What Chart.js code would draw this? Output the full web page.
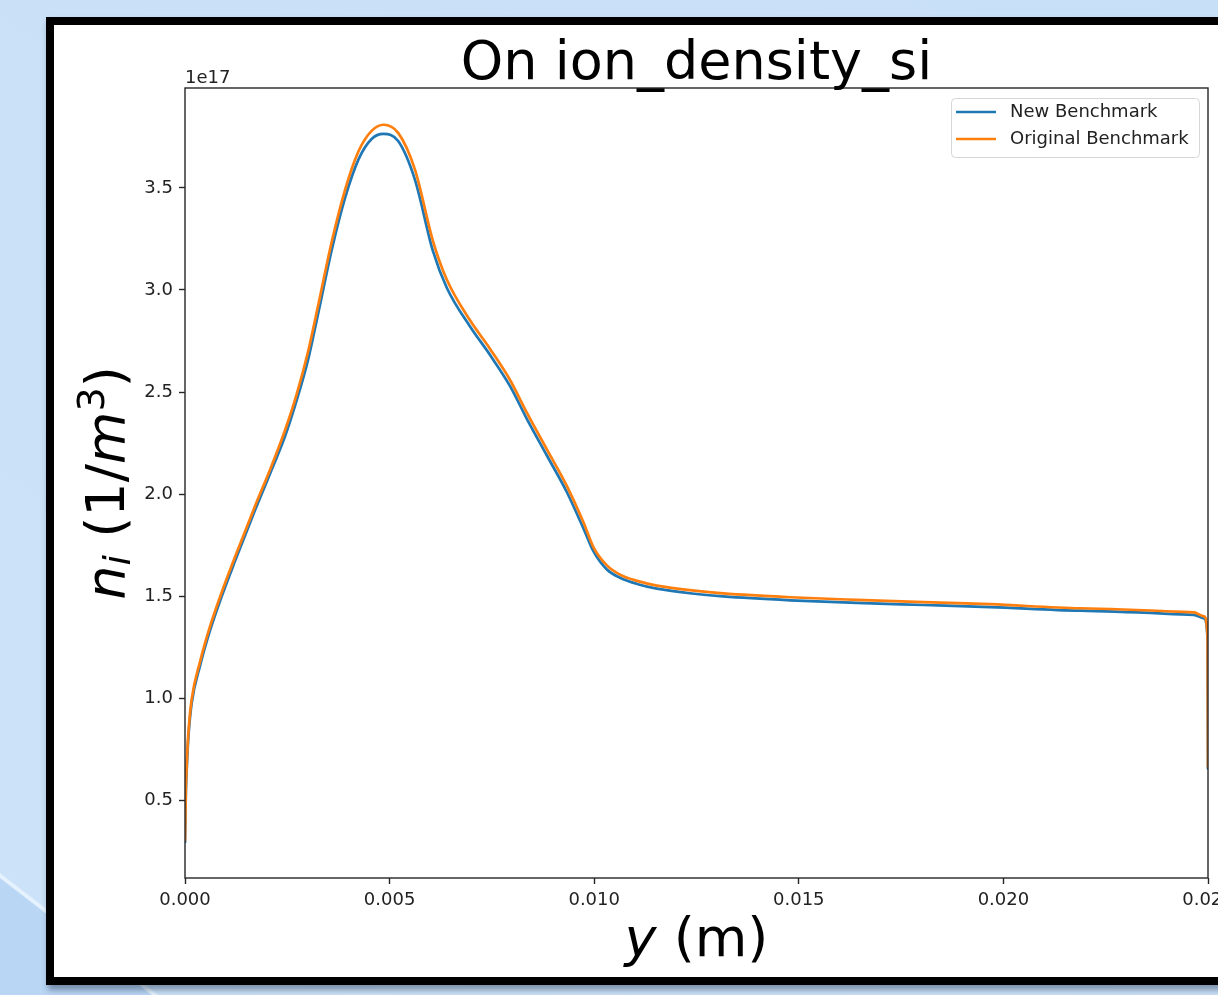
<!DOCTYPE html>
<html>
<head>
<meta charset="utf-8">
<script src="https://cdn.jsdelivr.net/npm/chart.js@4.4.1/dist/chart.umd.min.js"></script>
<style>
    html, body {
        margin: 0;
        padding: 0;
        width: 1218px;
        height: 995px;
        overflow: hidden;
    }
    body {
        position: relative;
        background: linear-gradient(37.6deg, #b9d6f4 0%, #b9d6f4 6.0%, #e6f2fd 6.1%, #e6f2fd 6.25%, #cbe2f8 6.35%, #c8e0f7 100%);
    }
    #frame {
        position: absolute;
        left: 46px;
        top: 17px;
        width: 1285px;
        height: 952px;
        border: 8px solid #000;
        background: #fff;
        box-shadow: 2px 5px 6px rgba(30, 50, 80, 0.45);
    }
    canvas {
        display: block;
    }
</style>
</head>
<body>
<div id="frame">
    <canvas id="line-chart" width="1285" height="952"></canvas>
</div>
<script>
// y positions (m)
const yPositions = [
    0, 0.00002, 0.00004, 0.00008, 0.00016, 0.00037, 0.00061, 0.0009, 0.00122, 0.00171,
    0.00212, 0.00244, 0.00273, 0.00301, 0.00326, 0.00359, 0.00391, 0.00424, 0.00456, 0.00485,
    0.00521, 0.00562, 0.00606, 0.0064, 0.00697, 0.00746, 0.00794, 0.00835, 0.00884, 0.00933,
    0.00974, 0.00998, 0.01031, 0.01063, 0.01107, 0.01153, 0.0125, 0.01315, 0.01479, 0.01642,
    0.01805, 0.01968, 0.02188, 0.02465, 0.0249, 0.02499, 0.025
];

// ion density, in units of 1e17 1/m^3
const newBenchmark = [
    0.29, 0.53, 0.64, 0.80, 0.97, 1.16, 1.33, 1.50, 1.67, 1.92,
    2.12, 2.28, 2.46, 2.66, 2.89, 3.20, 3.45, 3.64, 3.74, 3.765,
    3.73, 3.54, 3.19, 3.01, 2.82, 2.68, 2.53, 2.37, 2.19, 2.01,
    1.83, 1.72, 1.63, 1.59, 1.558, 1.536, 1.51, 1.498, 1.479, 1.466,
    1.456, 1.446, 1.428, 1.408, 1.39, 1.29, 0.65
];

const originalBenchmark = [
    0.30, 0.55, 0.66, 0.82, 0.99, 1.18, 1.35, 1.52, 1.69, 1.94,
    2.14, 2.31, 2.49, 2.70, 2.93, 3.24, 3.49, 3.68, 3.78, 3.81,
    3.77, 3.59, 3.24, 3.05, 2.85, 2.71, 2.56, 2.40, 2.22, 2.04,
    1.86, 1.74, 1.65, 1.605, 1.573, 1.551, 1.525, 1.513, 1.494, 1.481,
    1.47, 1.46, 1.44, 1.42, 1.40, 1.30, 0.66
];

const xTicks = [0, 0.005, 0.010, 0.015, 0.020, 0.025];
const yTicks = [0.5, 1.0, 1.5, 2.0, 2.5, 3.0, 3.5];

const seriesNames = ['New Benchmark', 'Original Benchmark'];
const seriesColors = ['#1f77b4', '#ff7f0e'];

const FONT = 'DejaVu Sans';
const TEXT_COLOR = '#222';
const AXIS_COLOR = '#262626';

Chart.defaults.font.family = FONT;
Chart.defaults.font.size = 18;
Chart.defaults.color = TEXT_COLOR;

// draws text pieces one after another, centred on x
function drawRuns(ctx, runs, x, y) {
    let total = 0;
    runs.forEach(([text, font]) => {
        ctx.font = font;
        total += ctx.measureText(text).width;
    });
    let cx = x - total / 2;
    runs.forEach(([text, font, dy]) => {
        ctx.font = font;
        ctx.fillText(text, cx, y + dy);
        cx += ctx.measureText(text).width;
    });
}

const decorPlugin = {
    id: 'decor',
    afterDraw(chart) {
        const { ctx, chartArea: a } = chart;
        const big = `54px "${FONT}"`;
        const bigIt = `italic 54px "${FONT}"`;
        const small = `38px "${FONT}"`;
        const smallIt = `italic 38px "${FONT}"`;

        ctx.save();

        // spines
        ctx.strokeStyle = AXIS_COLOR;
        ctx.lineWidth = 1.4;
        ctx.strokeRect(a.left, a.top, a.right - a.left, a.bottom - a.top);

        ctx.fillStyle = '#000';
        ctx.textBaseline = 'alphabetic';
        ctx.textAlign = 'left';

        // title
        drawRuns(ctx, [['On ion_density_si', big, 0]], (a.left + a.right) / 2, 54);

        // x label
        drawRuns(ctx, [['y', bigIt, 0], [' (m)', big, 0]], (a.left + a.right) / 2, 931);

        // y label, rotated
        ctx.save();
        ctx.translate(70, (a.top + a.bottom) / 2);
        ctx.rotate(-Math.PI / 2);
        drawRuns(ctx, [
            ['n', bigIt, 0],
            ['i', smallIt, 6],
            [' (1/', big, 0],
            ['m', bigIt, 0],
            ['3', small, -20],
            [')', big, 0],
        ], 0, 0);
        ctx.restore();

        // offset text
        ctx.fillStyle = TEXT_COLOR;
        ctx.font = `18px "${FONT}"`;
        ctx.fillText('1e17', a.left, 58);

        // legend
        const lx = 897, ly = 73, lw = 248, lh = 59;
        ctx.beginPath();
        ctx.roundRect(lx + 0.5, ly + 0.5, lw, lh, 4);
        ctx.fillStyle = 'rgba(255,255,255,0.8)';
        ctx.fill();
        ctx.strokeStyle = '#d6d6d6';
        ctx.lineWidth = 1;
        ctx.stroke();

        ctx.textBaseline = 'middle';
        seriesNames.forEach((name, i) => {
            const y = 87 + i * 27;
            ctx.beginPath();
            ctx.moveTo(902, y);
            ctx.lineTo(942, y);
            ctx.strokeStyle = seriesColors[i];
            ctx.lineWidth = 2.7;
            ctx.stroke();
            ctx.fillStyle = TEXT_COLOR;
            ctx.font = `18px "${FONT}"`;
            ctx.fillText(name, 956, y);
        });

        ctx.restore();
    },
};

init();

function init() {
    const toPoints = (values) => yPositions.map((x, i) => ({ x: x, y: values[i] }));

    new Chart(document.getElementById('line-chart'), {
        type: 'line',
        data: {
            datasets: [
                {
                    label: seriesNames[0],
                    data: toPoints(newBenchmark),
                    borderColor: seriesColors[0],
                    borderWidth: 2.7,
                    pointRadius: 0,
                    cubicInterpolationMode: 'monotone',
                    order: 1,
                },
                {
                    label: seriesNames[1],
                    data: toPoints(originalBenchmark),
                    borderColor: seriesColors[1],
                    borderWidth: 2.7,
                    pointRadius: 0,
                    cubicInterpolationMode: 'monotone',
                    order: 0,
                },
            ],
        },
        options: {
            responsive: false,
            animation: false,
            layout: {
                padding: { left: 0, top: 63, right: 131, bottom: 0 },
            },
            plugins: {
                legend: { display: false },
                title: { display: false },
                tooltip: { enabled: false },
            },
            scales: {
                x: {
                    type: 'linear',
                    min: 0,
                    max: 0.025,
                    afterFit: (scale) => { scale.height = 99; },
                    afterBuildTicks: (scale) => { scale.ticks = xTicks.map(v => ({ value: v })); },
                    ticks: {
                        padding: 6,
                        maxRotation: 0,
                        color: TEXT_COLOR,
                        font: { size: 18 },
                        callback: (value) => value.toFixed(3),
                    },
                    grid: {
                        drawOnChartArea: false,
                        drawTicks: true,
                        tickLength: 6,
                        tickWidth: 1.4,
                        tickColor: AXIS_COLOR,
                    },
                    border: { display: false },
                },
                y: {
                    type: 'linear',
                    min: 0.118,
                    max: 3.99,
                    afterFit: (scale) => { scale.width = 131; },
                    afterBuildTicks: (scale) => { scale.ticks = yTicks.map(v => ({ value: v })); },
                    ticks: {
                        padding: 6,
                        color: TEXT_COLOR,
                        font: { size: 18 },
                        callback: (value) => value.toFixed(1),
                    },
                    grid: {
                        drawOnChartArea: false,
                        drawTicks: true,
                        tickLength: 6,
                        tickWidth: 1.4,
                        tickColor: AXIS_COLOR,
                    },
                    border: { display: false },
                },
            },
        },
        plugins: [decorPlugin],
    });
}
</script>
</body>
</html>
